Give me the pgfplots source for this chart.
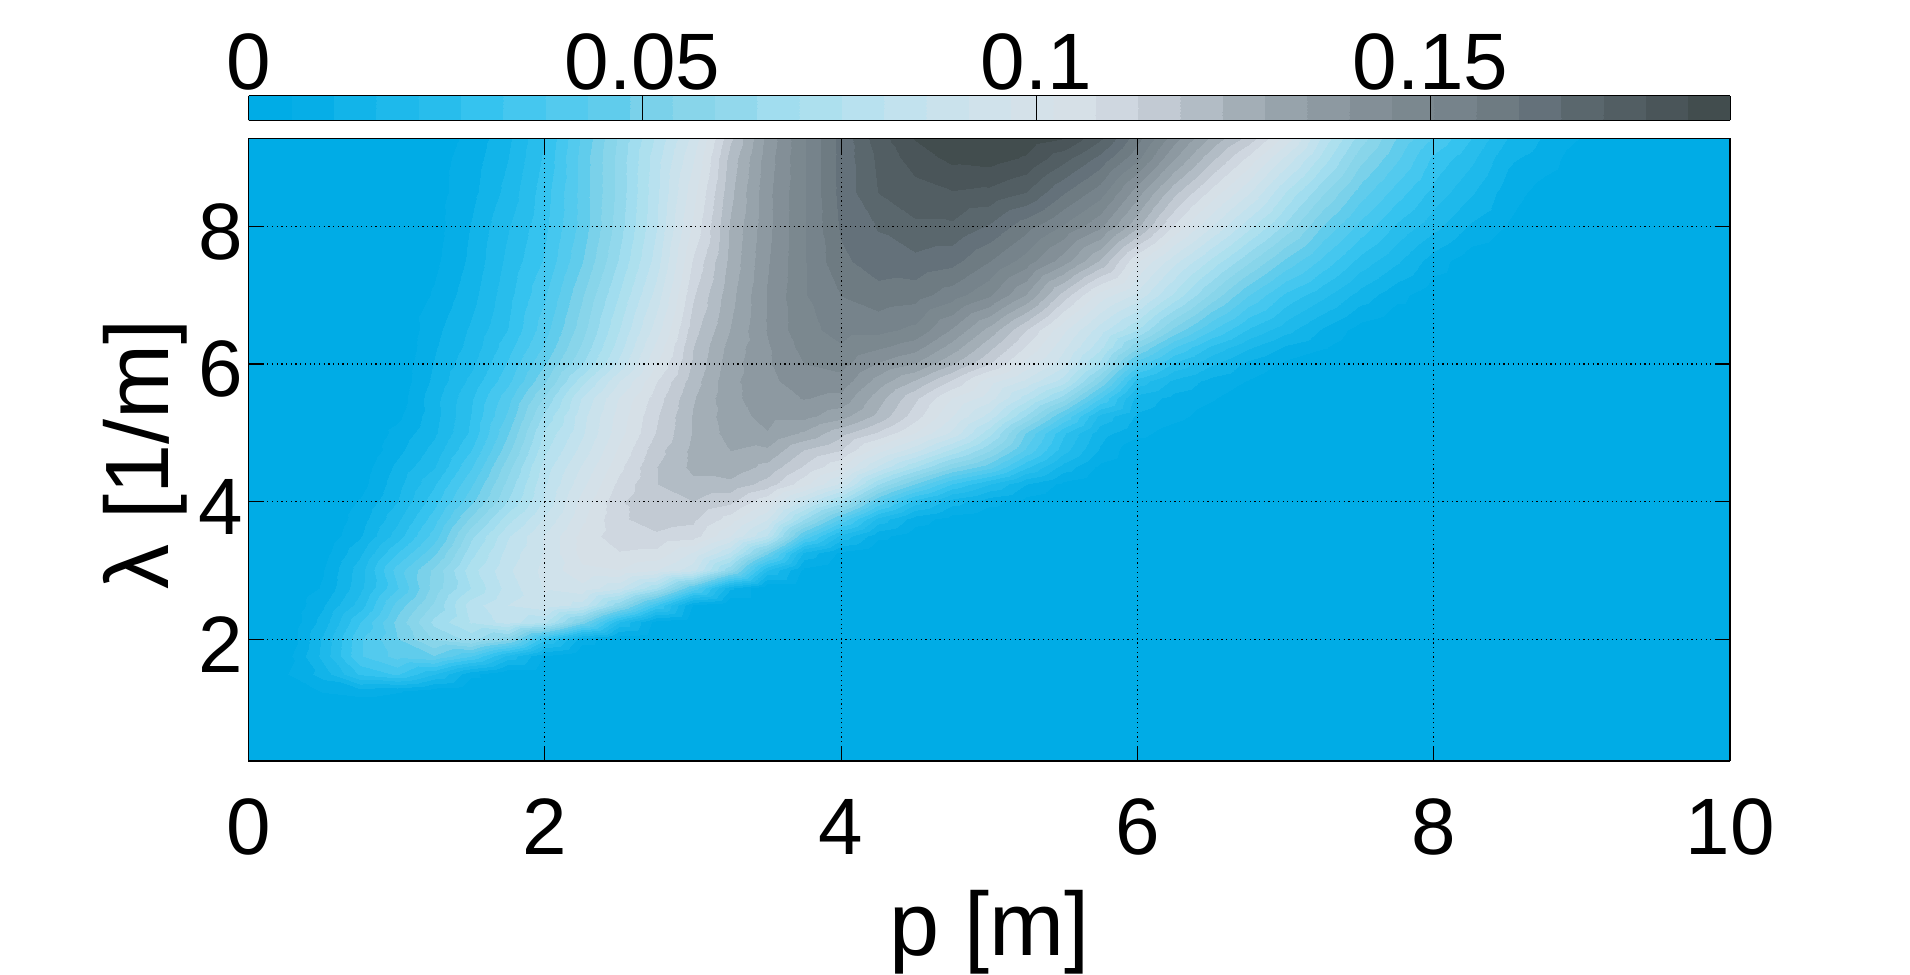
\documentclass[border=0pt]{standalone}
\usepackage{fontspec}
\setmainfont{Liberation Sans}
\usepackage{pgfplots}
\pgfplotsset{compat=1.18}

% grid: one row per lambda, p = 0, 0.25, ..., 10,
% values in 1e-3, rows are padded with zeros on the right
\newcount\pc
\def\griddata{}
\newcommand\addpoint[2]{\pgfmathsetmacro\p{\the\pc*0.25}\edef\griddata{\griddata (\p,#1,#2e-3)}\advance\pc by 1 }
\newcommand\gridrow[2]{\pc=0 \pgfplotsforeachungrouped \v in {#2}{\addpoint{#1}{\v}}\loop\ifnum\pc<41 \addpoint{#1}{0}\repeat}
\gridrow{0.25}{0}
\gridrow{1}{0}
\gridrow{1.25}{0,0,6,8,6,2,0}
\gridrow{1.5}{0,5,13,28,33,22,7,0}
\gridrow{1.75}{0,3,18,37,45,48,38,20,5,0}
\gridrow{2}{0,0,17,37,48,60,66,56,28,8,1,0}
\gridrow{2.25}{0,0,13,32,50,66,76,83,76,52,22,3,0}
\gridrow{2.5}{0,0,10,24,45,60,78,86,90,84,60,33,5,0}
\gridrow{2.75}{0,0,6,20,37,56,70,83,92,95,87,70,42,12,0}
\gridrow{3}{0,0,5,19,40,55,73,85,93,101,102,97,88,60,22,4,0}
\gridrow{3.25}{0,0,3,15,32,47,68,83,92,104,107,106,96,80,50,15,4,0}
\gridrow{3.5}{0,0,1,10,24,40,63,80,92,104,111,112,110,97,80,42,20,7,2,0}
\gridrow{3.75}{0,0,0,8,20,35,55,73,87,101,112,115,114,105,92,65,42,20,8,3,1,0}
\gridrow{4}{0,0,0,6,16,30,47,65,82,99,112,118,118,114,103,84,67,42,24,13,7,3,0}
\gridrow{4.25}{0,0,0,3,14,26,42,61,80,95,109,118,122,122,116,104,90,65,48,32,22,11,4,0}
\gridrow{4.5}{0,0,0,2,12,21,37,57,78,92,106,118,125,127,122,112,103,85,70,55,45,28,14,4,0}
\gridrow{4.75}{0,0,0,0,9,18,32,52,74,88,103,116,125,129,128,118,113,99,88,74,60,42,24,10,1,0}
\gridrow{5}{0,0,0,0,7,15,28,48,71,85,100,113,124,131,134,128,120,112,102,90,72,48,28,13,7,3,0}
\gridrow{5.25}{0,0,0,0,4,14,27,44,66,84,99,112,124,132,136,136,131,122,110,97,84,64,43,20,10,7,3,0}
\gridrow{5.5}{0,0,0,0,2,14,26,41,60,81,97,110,123,133,137,140,138,126,114,102,94,78,62,38,14,9,6,2,0}
\gridrow{5.75}{0,0,0,0,1,12,23,36,53,73,91,107,121,133,138,143,143,132,123,112,99,90,78,54,25,15,9,5,1,0}
\gridrow{6}{0,0,0,0,1,11,20,33,48,64,82,102,119,132,139,145,147,139,134,124,113,100,88,68,40,26,17,9,4,0}
\gridrow{6.25}{0,0,0,0,0,10,18,30,44,60,78,98,118,131,139,147,150,146,142,132,120,107,93,77,55,38,26,17,10,6,1,0}
\gridrow{6.5}{0,0,0,0,0,9,17,27,41,57,75,94,116,129,140,149,152,152,149,139,127,113,98,83,70,52,38,26,18,10,3,0}
\gridrow{7}{0,0,0,0,0,6,14,25,37,53,70,88,112,127,140,150,156,159,158,153,146,134,116,100,90,74,58,43,31,23,14,7,2,0}
\gridrow{7.5}{0,0,0,0,0,4,12,23,33,48,65,83,108,125,139,150,160,164,165,163,156,148,137,123,103,88,74,60,47,36,25,17,8,2,0}
\gridrow{8}{0,0,0,0,0,3,11,21,31,45,62,80,103,124,138,150,162,167,171,171,166,158,150,141,125,107,92,77,63,48,36,26,18,10,5,0}
\gridrow{8.5}{0,0,0,0,0,3,9,18,30,45,61,79,100,122,138,150,163,172,175,177,176,172,162,153,137,120,106,92,75,60,46,35,25,17,8,3,0}
\gridrow{9}{0,0,0,0,0,3,8,16,28,45,61,78,96,120,137,150,163,173,180,184,185,182,174,165,152,135,120,106,90,73,56,44,31,23,12,8,2,0}
\gridrow{9.28}{0,0,0,0,0,2,7,15,27,44,60,76,93,117,136,150,163,175,183,187,188,186,183,173,158,142,128,116,100,79,62,48,37,27,16,10,5,0}

\pgfplotsset{
  /pgf/number format/assume math mode=true,
  gridstyle/.style={surf, shader=interp, mesh/rows=30, mesh/cols=41, mesh/ordering=x varies},
  colormap={bluegrey}{
    HTML=(00ACE6) HTML=(06AEE7) HTML=(12B4E9) HTML=(1EB9EB) HTML=(28BDEC) HTML=(35C3EF) HTML=(45C7EF)
    HTML=(53CAEE) HTML=(60CCEC) HTML=(7AD1EA) HTML=(88D5EA) HTML=(92D8EC) HTML=(A1DDEF) HTML=(ADE0EE)
    HTML=(B8E1EF) HTML=(C2E2EE) HTML=(CAE2EC) HTML=(D0E2EB) HTML=(D4E1E9) HTML=(D6E0E7) HTML=(CFD7E0)
    HTML=(C2CAD3) HTML=(B2BCC5) HTML=(A3AEB6) HTML=(97A3AB) HTML=(8D99A1) HTML=(838F97) HTML=(7B888F)
    HTML=(76838B) HTML=(6E7B82) HTML=(64717A) HTML=(5A676D) HTML=(525E63) HTML=(4A5559) HTML=(424D4E)
  },
}

\begin{document}
\begin{tikzpicture}
\useasboundingbox (-124.25pt,-106.5pt) rectangle (830.75pt,380.5pt);
\begin{axis}[
  at={(0,0)}, anchor=south west,
  scale only axis, width=740.75pt, height=311.35pt,
  view={0}{90},
  xmin=0, xmax=10, ymin=0.228, ymax=9.28,
  xtick={0,2,...,10}, ytick={2,4,6,8}, ztick=\empty,
  axis on top, grid=major,
  grid style={black, line width=0.6pt, dash pattern=on 0.6pt off 1.75pt},
  axis line style={line width=0.8pt},
  every tick/.style={black, line width=0.6pt},
  tick align=inside, major tick length=7.5pt,
  tick label style={font=\fontsize{40}{44}\selectfont},
  xticklabel style={anchor=base, yshift=-46.5pt},
  yticklabel style={anchor=base east, yshift=-16.5pt, xshift=1pt},
  label style={font=\fontsize{45}{50}\selectfont},
  xlabel={p [m]}, ylabel={λ [1/m]},
  xlabel style={at={(axis description cs:0.5,0)}, anchor=base, yshift=-97pt},
  ylabel style={at={(axis description cs:0,0.493)}, anchor=base, yshift=40pt},
  colormap name=bluegrey, colormap access=piecewise constant,
  point meta min=0, point meta max=0.188,
  colorbar horizontal,
  colorbar style={
    at={(0,1.0289)}, anchor=south west,
    scale only axis, width=740.75pt, height=12.3pt,
    xtick={0,0.05,0.1,0.15}, ytick=\empty,
    scaled x ticks=false,
    xticklabel style={/pgf/number format/fixed, anchor=base, yshift=3pt},
    xticklabel pos=upper, xtick pos=upper,
    tick align=inside, major tick length=12.3pt,
  },
]
\edef\cmd{\noexpand\addplot3[gridstyle] coordinates {\griddata};}\cmd
\end{axis}
\end{tikzpicture}
\end{document}
